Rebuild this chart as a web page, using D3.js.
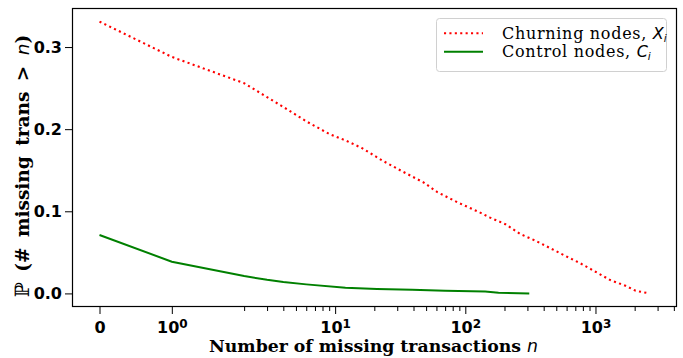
<!DOCTYPE html>
<html>
<head>
<meta charset="utf-8">
<script src="https://cdn.jsdelivr.net/npm/d3@7"></script>
<style>
  body { margin: 0; background: #fff; }
  svg { display: block; }
</style>
</head>
<body>
<div id="chart"></div>
<script>
var svg_width = 683;
var svg_height = 358;
var margin = ({top: 8, right: 6, bottom: 51, left: 72});

// survival curves: n -> P(# missing trans > n)
var churn_n = [0, 1, 2, 3, 4, 6, 9, 12, 16, 23, 33, 48, 61, 88, 130, 155, 203, 264, 345, 450, 590, 766, 1000, 1300, 1700, 2035, 2600];
var churn_p = [0.331, 0.288, 0.256, 0.239, 0.227, 0.2096, 0.1942, 0.1864, 0.1771, 0.1619, 0.1484, 0.135, 0.1233, 0.1106, 0.0984, 0.0923, 0.0843, 0.0724, 0.0643, 0.055, 0.0455, 0.0366, 0.0264, 0.0162, 0.0093, 0.0032, 0.0];
var control_n = [0, 1, 2, 3, 4, 6, 12, 21, 39, 70, 142, 180, 310];
var control_p = [0.0712, 0.0386, 0.0211, 0.0165, 0.0138, 0.011, 0.0068, 0.0053, 0.0044, 0.0032, 0.0024, 0.0008, 0.0];

var x_major = [0, 1, 10, 100, 1000];
var x_minor = [2, 3, 4, 5, 6, 7, 8, 9, 20, 30, 40, 50, 60, 70, 80, 90, 200, 300, 400, 500, 600, 700, 800, 900, 2000, 3000, 4000];
var y_ticks = [0.0, 0.1, 0.2, 0.3];

var series = [
    {name: "Churning nodes, ", sym: "X", n: churn_n, p: churn_p},
    {name: "Control nodes, ", sym: "C", n: control_n, p: control_p}
];
var styles = [
    {color: "#ff0000", dash: "2.1,3.3", width: 2.1},
    {color: "#008000", dash: null, width: 2}
];

// matplotlib style symlog, linthresh 2, linscale 1
var LINTHRESH = 2;
var LINSCALE_ADJ = 1 / (1 - 1 / 10);
function symlog(v) {
    var a = Math.abs(v);
    var out = a <= LINTHRESH ? a * LINSCALE_ADJ : LINTHRESH * (LINSCALE_ADJ + Math.log10(a / LINTHRESH));
    return Math.sign(v) * out;
}

var all_t = churn_n.concat(control_n).map(symlog);
var t_lo = d3.min(all_t), t_hi = d3.max(all_t);
var t_pad = (t_hi - t_lo) * 0.05;
var x_lin = d3.scaleLinear()
    .domain([t_lo - t_pad, t_hi + t_pad])
    .range([margin.left, svg_width - margin.right]);
var x = v => x_lin(symlog(v));
x.copy = () => x;
x.range = () => x_lin.range();
x.domain = () => x_lin.domain();

var p_hi = d3.max(churn_p.concat(control_p)), p_lo = 0;
var p_pad = (p_hi - p_lo) * 0.05;
var y = d3.scaleLinear()
    .domain([p_lo - p_pad, p_hi + p_pad])
    .range([svg_height - margin.bottom, margin.top]);

const svg = d3.select("#chart")
    .append("svg")
    .attr("width", svg_width)
    .attr("height", svg_height)
    .attr("viewBox", [0, 0, svg_width, svg_height]);

var line = d3.line()
    .x(d => x(d[0]))
    .y(d => y(d[1]));

svg.append("g")
    .selectAll("path")
    .data(series)
    .join("path")
      .attr("fill", "none")
      .attr("stroke", (d, i) => styles[i].color)
      .attr("stroke-width", (d, i) => styles[i].width)
      .attr("stroke-dasharray", (d, i) => styles[i].dash)
      .attr("d", d => line(d.n.map((v, i) => [v, d.p[i]])));

// frame
svg.append("rect")
    .attr("x", margin.left + 0.5)
    .attr("y", margin.top + 0.5)
    .attr("width", svg_width - margin.left - margin.right - 1)
    .attr("height", svg_height - margin.top - margin.bottom - 1)
    .attr("fill", "none")
    .attr("stroke", "#000")
    .attr("stroke-width", 1.2);

var tick_font = "'DejaVu Sans', sans-serif";

var xAxis = svg.append("g")
    .attr("transform", `translate(0,${svg_height - margin.bottom})`)
    .call(d3.axisBottom(x).tickValues(x_major).tickSize(7).tickPadding(8).tickFormat(d => d == 0 ? "0" : "10"))
    .call(g => g.select(".domain").remove());
xAxis.selectAll(".tick text")
    .attr("font-family", tick_font)
    .attr("font-weight", "bold")
    .attr("font-size", 16)
    .attr("fill", "#000")
    .each(function (d) {
        if (d > 0) {
            d3.select(this).append("tspan")
                .attr("dy", "-0.45em")
                .attr("font-size", 12)
                .text(Math.round(Math.log10(d)));
        }
    });

svg.append("g")
    .attr("transform", `translate(0,${svg_height - margin.bottom})`)
    .call(d3.axisBottom(x).tickValues(x_minor).tickSize(4).tickFormat(""))
    .call(g => g.select(".domain").remove());

svg.append("g")
    .attr("transform", `translate(${margin.left},0)`)
    .call(d3.axisLeft(y).tickValues(y_ticks).tickSize(7).tickPadding(3).tickFormat(d3.format(".1f")))
    .call(g => g.select(".domain").remove())
    .call(g => g.selectAll(".tick text")
        .attr("font-family", tick_font)
        .attr("font-weight", "bold")
        .attr("font-size", 16)
        .attr("fill", "#000"));

svg.selectAll(".tick line").attr("stroke", "#000").attr("stroke-width", 1);

// axis labels
var label_font = "'DejaVu Serif', serif";
var xlab = svg.append("text")
    .attr("x", 373.5)
    .attr("y", 352)
    .attr("text-anchor", "middle")
    .attr("font-family", label_font)
    .attr("font-weight", "bold")
    .attr("font-size", 17.3)
    .text("Number of missing transactions ");
xlab.append("tspan")
    .attr("font-family", tick_font)
    .attr("font-weight", "normal")
    .attr("font-style", "italic")
    .text("n");

var ylab = svg.append("text")
    .attr("transform", "translate(29,166) rotate(-90)")
    .attr("text-anchor", "middle")
    .attr("font-family", label_font)
    .attr("font-weight", "bold")
    .attr("font-size", 18.5)
    .attr("word-spacing", 4);
ylab.append("tspan")
    .attr("font-weight", "normal")
    .attr("font-size", 20)
    .text("\u2119 ");
ylab.append("tspan").text("(# missing trans > ");
ylab.append("tspan")
    .attr("font-family", tick_font)
    .attr("font-weight", "normal")
    .attr("font-style", "italic")
    .text("n");
ylab.append("tspan").text(")");

// legend
var legend = svg.append("g");
legend.append("rect")
    .attr("x", 436.5)
    .attr("y", 18.5)
    .attr("width", 230)
    .attr("height", 53)
    .attr("rx", 3)
    .attr("fill", "#fff")
    .attr("fill-opacity", 0.8)
    .attr("stroke", "#d0d0d0");

var rows = legend.selectAll("g.row")
    .data(series)
    .join("g")
      .attr("class", "row")
      .attr("transform", (d, i) => `translate(0,${33.3 + i * 18.4})`);

rows.append("line")
    .attr("x1", 444)
    .attr("x2", 483)
    .attr("stroke", (d, i) => styles[i].color)
    .attr("stroke-width", (d, i) => styles[i].width)
    .attr("stroke-dasharray", (d, i) => styles[i].dash);

var rtext = rows.append("text")
    .attr("x", 502)
    .attr("y", 5.5)
    .attr("font-family", label_font)
    .attr("font-size", 16)
    .attr("letter-spacing", 0.7)
    .text(d => d.name);
rtext.append("tspan")
    .attr("font-family", tick_font)
    .attr("font-style", "italic")
    .attr("font-size", 16)
    .attr("letter-spacing", 0)
    .text(d => d.sym);
rtext.append("tspan")
    .attr("font-family", tick_font)
    .attr("font-style", "italic")
    .attr("font-size", 10.5)
    .attr("letter-spacing", 0)
    .attr("dy", "0.3em")
    .text("i");
</script>
</body>
</html>
